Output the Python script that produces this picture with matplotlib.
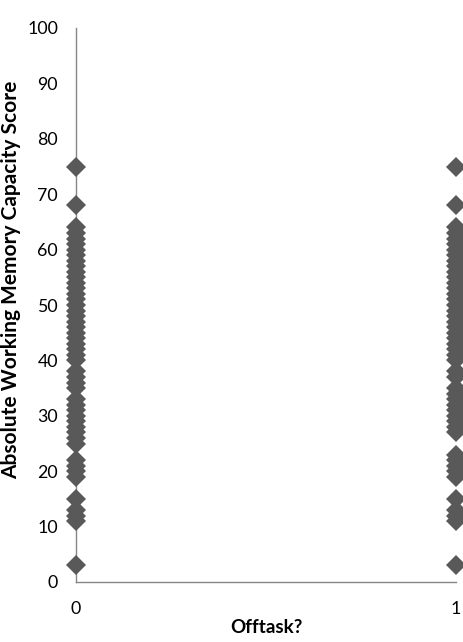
import matplotlib
matplotlib.use("Agg")
import matplotlib.pyplot as plt
import numpy as np

plt.rcParams['font.family'] = ['Lato', 'DejaVu Sans']

# scores, one column per group
scores_on = ([3, 11, 12, 13, 15, 19, 20, 21, 22]
             + list(range(25, 34)) + [35, 36, 37, 38]
             + list(range(40, 65)) + [68, 75])
scores_off = ([3, 11, 12, 13, 15, 19, 20, 21, 22, 23]
              + list(range(27, 36)) + [37, 38]
              + list(range(40, 65)) + [68, 75])
groups = [0, 1]

fig = plt.figure(figsize=(4.64, 6.42), dpi=100)
ax = fig.add_axes([76 / 464, 1 - 582 / 642, (456 - 76) / 464, (582 - 28) / 642])

mk = dict(marker='D', linestyle='none', color='#595959', markersize=10,
          markeredgewidth=0, clip_on=False, zorder=3)
ax.plot(np.full(len(scores_on), groups[0]), scores_on, **mk)
ax.plot(np.full(len(scores_off), groups[1]), scores_off, **mk)

ax.set_xlim(0, 1)
ax.set_ylim(0, 100)
ax.set_xticks(groups)
ax.set_yticks(range(0, 101, 10))
ax.tick_params(length=0, labelsize=12.8)
ax.tick_params(axis='y', pad=13)
ax.tick_params(axis='x', pad=14)

for s in ['top', 'right']:
    ax.spines[s].set_visible(False)
for s in ['left', 'bottom']:
    ax.spines[s].set_color('#868686')
    ax.spines[s].set_linewidth(1.0)

ax.set_xlabel('Offtask?', fontsize=13.5, fontweight='bold', labelpad=1)
ax.set_ylabel('Absolute Working Memory Capacity Score', fontsize=15,
              fontweight='bold')
ax.yaxis.set_label_coords(-0.145, 0.545)

fig.savefig('out.png', dpi=100)
